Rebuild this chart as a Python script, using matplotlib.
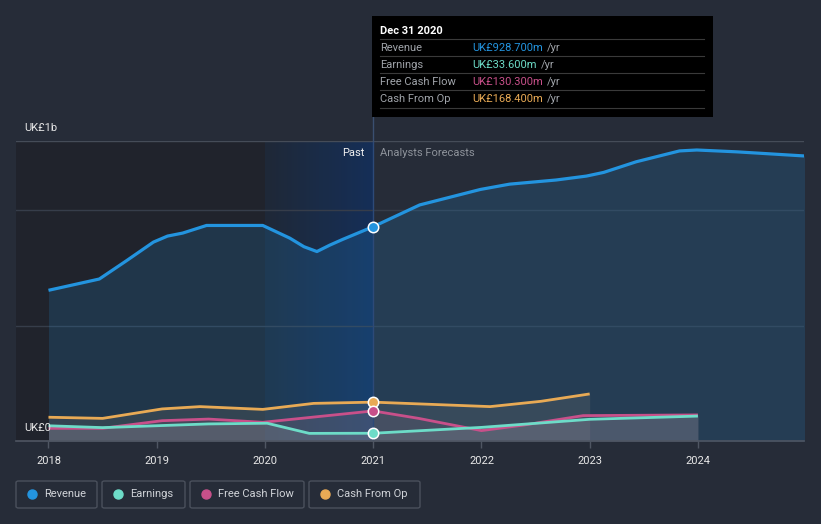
import matplotlib
matplotlib.use("Agg")
import matplotlib.pyplot as plt
import numpy as np
from matplotlib.patches import Rectangle, FancyBboxPatch
from matplotlib.lines import Line2D
from matplotlib.colors import LinearSegmentedColormap

plt.rcParams['font.family'] = ['Roboto', 'DejaVu Sans']

# ---- data (UK£ millions) ----
rev_x = [2018.0, 2018.26, 2018.47, 2018.72, 2018.97, 2019.1, 2019.24, 2019.46, 2019.98,
         2020.23, 2020.36, 2020.48, 2020.6, 2020.72, 2021.0, 2021.43, 2021.99, 2022.26,
         2022.69, 2022.97, 2023.13, 2023.43, 2023.83, 2023.99, 2024.36, 2024.99]
rev_y = [653, 680, 702, 781, 862, 888, 901, 934, 934, 879, 842, 821, 849, 874, 928.7,
         1023, 1090, 1113, 1131, 1148, 1164, 1210, 1257, 1261, 1253, 1235]

earn_x = [2018.0, 2018.5, 2019.48, 2020.02, 2020.41, 2021.0, 2022.0, 2023.0, 2024.0]
earn_y = [66, 58, 74, 77, 33, 33.6, 59, 94, 108]

fcf_x = [2018.0, 2018.5, 2019.05, 2019.48, 2019.98, 2021.0, 2021.42, 2022.0, 2022.39,
         2022.94, 2024.0]
fcf_y = [55, 55, 88, 95, 81, 130.3, 98, 45, 69, 110, 113]

cfo_x = [2018.0, 2018.5, 2019.05, 2019.4, 2019.98, 2020.45, 2021.0, 2022.08, 2022.55,
         2023.0]
cfo_y = [103, 98, 139, 149, 137, 163, 168.4, 149, 172, 204]

years = [2018, 2019, 2020, 2021, 2022, 2023, 2024]
series_names = ["Revenue", "Earnings", "Free Cash Flow", "Cash From Op"]
tooltip_vals = ["UK£928.700m", "UK£33.600m", "UK£130.300m", "UK£168.400m"]

C_REV = '#2394df'
C_EARN = '#6ddcc8'
C_FCF = '#c8508a'
C_CFO = '#e8aa55'
colors = [C_REV, C_EARN, C_FCF, C_CFO]
BG = '#262c38'

W, H = 821, 524
fig = plt.figure(figsize=(W / 100, H / 100), dpi=100, facecolor=BG)

def fx(x):
    return x / W

def fy(y):
    return 1 - y / H

ax_l, ax_r, ax_t, ax_b = 16, 804, 141, 441
ax = fig.add_axes([fx(ax_l), fy(ax_b), (ax_r - ax_l) / W, (ax_b - ax_t) / H])
ax.set_facecolor(BG)
x0, x1 = 2017.70, 2024.98
ax.set_xlim(x0, x1)
ax.set_ylim(0, 1300)

# past dark region and highlighted year
ax.axvspan(x0, 2020.0, color='#1e2129', alpha=0.75, lw=0, zorder=0)
grad = np.linspace(0, 1, 256).reshape(1, -1)
cm = LinearSegmentedColormap.from_list('hl', ['#1f2838', '#15305a'])
ax.imshow(grad, extent=[2020.0, 2021.0, 0, 1300], aspect='auto', cmap=cm, zorder=0.5,
          alpha=0.95)

# gridlines
for v in [500, 1000]:
    ax.axhline(v, color='#363d4a', lw=1, zorder=1)
ax.axhline(1300, color='#454c58', lw=1, zorder=1)

# fills
ax.fill_between(rev_x, rev_y, 0, color=C_REV, alpha=0.17, lw=0, zorder=2)
ax.fill_between(cfo_x, cfo_y, 0, color='#9a8f80', alpha=0.16, lw=0, zorder=2)
ax.fill_between(fcf_x, fcf_y, 0, color='#a07090', alpha=0.14, lw=0, zorder=2)
ax.fill_between(earn_x, earn_y, 0, color='#9aa0a8', alpha=0.22, lw=0, zorder=2)

# lines
for xs, ys, c, w in [(rev_x, rev_y, C_REV, 2.3), (cfo_x, cfo_y, C_CFO, 2.0),
                     (fcf_x, fcf_y, C_FCF, 2.0), (earn_x, earn_y, C_EARN, 2.0)]:
    ax.plot(xs, ys, color=c, lw=w, solid_joinstyle='round', solid_capstyle='butt', zorder=4)

# cursor line
ax.axvline(2021.0, color='#2d4a78', lw=1.0, zorder=3)

# markers at Dec 2020
for xs, ys, c in [(rev_x, rev_y, C_REV), (cfo_x, cfo_y, C_CFO), (fcf_x, fcf_y, C_FCF),
                  (earn_x, earn_y, C_EARN)]:
    i = xs.index(2021.0)
    ax.plot([xs[i]], [ys[i]], 'o', ms=7.5, mfc=c, mec='white', mew=1.1, zorder=6)

# axes styling
for s in ax.spines.values():
    s.set_visible(False)
ax.axhline(0, color='#4f5663', lw=1.2, zorder=5, clip_on=False)
ax.set_yticks([])
ax.set_xticks(years)
ax.set_xticklabels([str(y) for y in years])
ax.tick_params(axis='x', colors='#4f5663', length=5, width=1, pad=6, labelsize=8,
               labelcolor='#e8e8e8')

# y labels
fig.text(fx(24), fy(128), "UK£1b", color='#e8e8e8', fontsize=8, va='center', ha='left')
fig.text(fx(24), fy(428), "UK£0", color='#e8e8e8', fontsize=8, va='center', ha='left',
         zorder=10)

# Past / forecasts
fig.text(fx(364), fy(153), "Past", color='#f0f0f0', fontsize=8, va='center', ha='right')
fig.text(fx(380), fy(153), "Analysts Forecasts", color='#8e939b', fontsize=8, va='center',
         ha='left')

# tooltip
fig.add_artist(Line2D([fx(372.5), fx(372.5)], [fy(117), fy(141)], color='#3a4f70', lw=1))
fig.add_artist(Rectangle((fx(372), fy(117)), (713 - 372) / W, (117 - 16) / H,
                         facecolor='#000000', edgecolor='none', zorder=20))
fig.text(fx(380), fy(31), "Dec 31 2020", color='white', fontsize=8, fontweight='bold',
         va='center', ha='left', zorder=21)
row_y = [48, 65, 82, 99]
fig.canvas.draw()
for k, ry in enumerate(row_y):
    fig.add_artist(Line2D([fx(380), fx(704)], [fy(ry - 9), fy(ry - 9)], color='#3a3a3a',
                          lw=0.8, zorder=21))
    fig.text(fx(380), fy(ry), series_names[k], color='#a0a4aa', fontsize=8, va='center',
             ha='left', zorder=21)
    t = fig.text(fx(472), fy(ry), tooltip_vals[k], color=colors[k], fontsize=8,
                 va='center', ha='left', zorder=21)
    bb = t.get_window_extent(renderer=fig.canvas.get_renderer())
    fig.text(bb.x1 / W + 4 / W, fy(ry), "/yr", color='#a0a4aa', fontsize=8, va='center',
             ha='left', zorder=21)
fig.add_artist(Line2D([fx(380), fx(704)], [fy(108), fy(108)], color='#3a3a3a', lw=0.8,
                      zorder=21))

# legend boxes
boxes = [(16, 97), (102, 185), (190, 304), (309, 420)]
for k, (bx0, bx1) in enumerate(boxes):
    fig.add_artist(FancyBboxPatch((fx(bx0), fy(508)), (bx1 - bx0) / W, (508 - 481) / H,
                                  boxstyle='round,pad=0,rounding_size=0.003',
                                  facecolor='none', edgecolor='#4a505c', lw=1))
    fig.add_artist(Line2D([fx(bx0 + 15.5)], [fy(494)], marker='o', ms=6.5, color=colors[k],
                          mec=colors[k], lw=0))
    fig.text(fx(bx0 + 28), fy(494), series_names[k], color='#d0d3d8', fontsize=8,
             va='center', ha='left')

fig.savefig("out.png", dpi=100, facecolor=BG)
